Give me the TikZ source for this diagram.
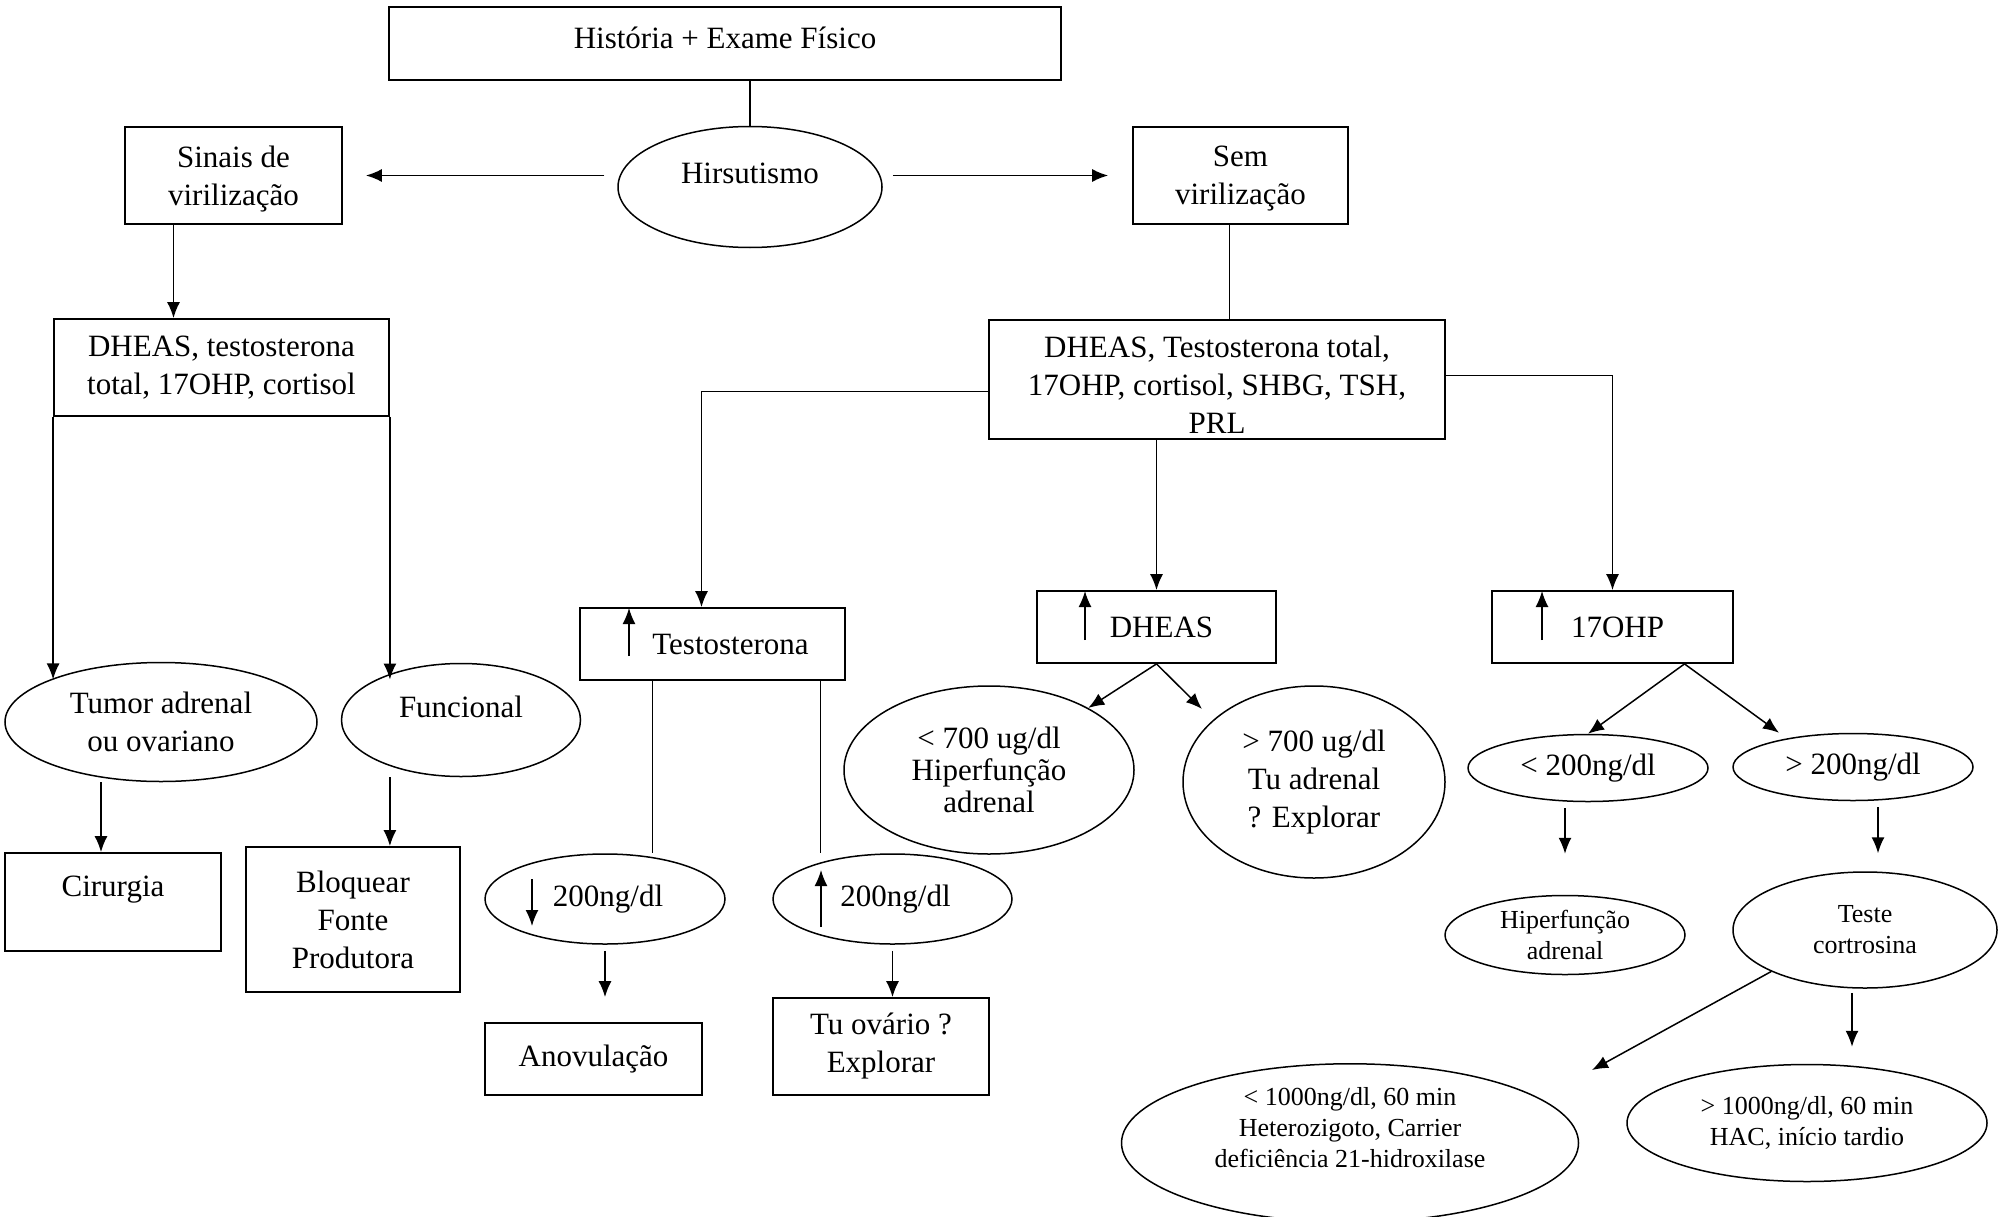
\documentclass[tikz,border=0pt]{standalone}
\usepackage{fontspec}
\setmainfont{Liberation Serif}
\usetikzlibrary{shapes.geometric,arrows.meta}

\tikzset{
  box/.style={draw, line width=1.8pt, rectangle, inner sep=3pt, align=center},
  oval/.style={draw, line width=1.5pt, ellipse, inner sep=0pt, align=center},
  arr/.style={line width=1.5pt, -{Latex[length=16pt,width=13pt]}},
  ln/.style={line width=1.5pt},
  small/.style={font=\fontsize{26}{31}\selectfont},
}

\begin{document}
\begin{tikzpicture}[x=1pt, y=-1pt, font=\fontsize{31}{38}\selectfont]
    \useasboundingbox (0,0) rectangle (2009,1217);

    % topo
    \node[box, minimum width=672pt, minimum height=73pt, text depth=12pt] (hist) at (725,43.5) {História + Exame Físico};
    \node[oval, minimum width=264pt, minimum height=121pt, text depth=28pt] (hirs) at (750,187) {Hirsutismo};
    \node[box, minimum width=217pt, minimum height=97pt, text depth=0pt] (sinais) at (233.5,175.5) {Sinais de\\virilização};
    \node[box, minimum width=215pt, minimum height=97pt, text depth=0pt] (sem) at (1240.5,175.5) {Sem\\virilização};

    % exames
    \node[box, minimum width=335pt, minimum height=97pt] (exL) at (221.5,367.5) {DHEAS, testosterona\\total, 17OHP, cortisol};
    \node[box, minimum width=456pt, minimum height=119pt, text height=108pt] (exR) at (1217,379.5) {DHEAS, Testosterona total,\\17OHP, cortisol, SHBG, TSH,\\PRL};

    % ramo esquerdo
    \node[oval, minimum width=312pt, minimum height=119pt] (tumor) at (161,722) {Tumor adrenal\\ou ovariano};
    \node[oval, minimum width=239pt, minimum height=113pt, text depth=26pt] (func) at (461,720) {Funcional};
    \node[box, minimum width=216pt, minimum height=98pt, text depth=31pt] (cir) at (113,902) {Cirurgia};
    \node[box, minimum width=214pt, minimum height=145pt] (bloq) at (353,919.5) {Bloquear\\Fonte\\Produtora};

    % testosterona
    \node[box, minimum width=265pt, minimum height=72pt] (testo) at (712.5,644) {\hspace*{36pt}Testosterona};
    \node[oval, minimum width=240pt, minimum height=90pt] (lowT) at (605,899) {\hspace*{6pt}200ng/dl};
    \node[oval, minimum width=239pt, minimum height=90pt] (highT) at (892.5,899) {\hspace*{6pt}200ng/dl};
    \node[box, minimum width=217pt, minimum height=72pt] (anov) at (593.5,1059) {Anovulação};
    \node[box, minimum width=216pt, minimum height=97pt] (tuov) at (881,1046.5) {Tu ovário ?\\Explorar};

    % DHEAS
    \node[box, minimum width=239pt, minimum height=72pt] (dheas) at (1156.5,627) {\hspace*{10pt}DHEAS};
    \node[oval, minimum width=290pt, minimum height=168pt, font=\fontsize{31}{32}\selectfont] (lt700) at (989,770) {< 700 ug/dl\\Hiperfunção\\adrenal};
    \node[oval, minimum width=262pt, minimum height=192pt] (gt700) at (1314,782) {> 700 ug/dl\\Tu adrenal\\? Explorar};

    % 17OHP
    \node[box, minimum width=241pt, minimum height=72pt] (ohp) at (1612.5,627) {\hspace*{10pt}17OHP};
    \node[oval, minimum width=240pt, minimum height=67pt] (lt200) at (1588,768) {< 200ng/dl};
    \node[oval, minimum width=240pt, minimum height=67pt] (gt200) at (1853,767) {> 200ng/dl};
    \node[oval, small, minimum width=240pt, minimum height=79pt] (hipf) at (1565,935) {Hiperfunção\\adrenal};
    \node[oval, small, minimum width=264pt, minimum height=116pt] (teste) at (1865,930) {Teste\\cortrosina};
    \node[oval, small, minimum width=457pt, minimum height=146pt, text depth=32pt] (lt1000) at (1350,1143) {< 1000ng/dl, 60 min\\Heterozigoto, Carrier\\deficiência 21-hidroxilase};
    \node[oval, small, minimum width=360pt, minimum height=117pt] (gt1000) at (1807,1123) {> 1000ng/dl, 60 min\\HAC, início tardio};

    \coordinate (gtip) at (1202,709);
    \coordinate (ctip) at (1592,1070);

    % ligacoes
    \draw[ln] (hirs.north) -- (hirs.north |- hist.south);
    \draw[arr, shorten <=13pt, shorten >=23pt] (hirs.west |- sinais.east) -- (sinais.east);
    \draw[arr, shorten <=10pt, shorten >=24pt] (hirs.east |- sem.west) -- (sem.west);
    \draw[arr] ([xshift=-60pt]sinais.south) -- ([xshift=-60pt]sinais.south |- exL.north);
    \draw[ln] ([xshift=-11pt]sem.south) -- ([xshift=-11pt]sem.south |- exR.north);

    \draw[arr] (exL.south west) -- (exL.south west |- tumor.north west);
    \draw[arr] (exL.south east) -- (exL.south east |- func.north west);
    \draw[arr] ([xshift=-12pt]cir.north |- tumor.south) -- ([xshift=-12pt]cir.north);
    \draw[arr] (func.south -| exL.south east) -- (bloq.north -| exL.south east);

    \draw[arr] ([yshift=-12pt]exR.west) -| ([xshift=-11pt]testo.north);
    \draw[arr] (exR.south -| dheas.north) -- (dheas.north);
    \draw[arr] ([yshift=4pt]exR.east) -| (ohp.north);

    \draw[ln] ([xshift=-60pt]testo.south) -- ([xshift=-60pt]testo.south |- lowT.north);
    \draw[ln] ([xshift=108pt]testo.south) -- ([xshift=108pt]testo.south |- highT.north);
    \draw[arr, shorten <=6pt, shorten >=25pt] (lowT.south) -- (lowT.south |- anov.north);
    \draw[arr, shorten <=6pt] (highT.south) -- (highT.south |- tuov.north);

    \draw[arr] (dheas.south) -- (lt700.32);
    \draw[arr] (dheas.south) -- (gtip);

    \draw[arr] ([xshift=72pt]ohp.south) -- (lt200.north);
    \draw[arr] ([xshift=72pt]ohp.south) -- ([xshift=-74pt]gt200.north);
    \draw[arr, shorten <=6pt, shorten >=41pt] (hipf.north |- lt200.south) -- (hipf.north);
    \draw[arr, shorten <=6pt, shorten >=18pt] ([xshift=13pt]teste.north |- gt200.south) -- ([xshift=13pt]teste.north);
    \draw[arr] (teste.south west) -- (ctip);
    \draw[arr, shorten <=4pt, shorten >=17pt] ([xshift=-13pt]teste.south) -- ([xshift=-13pt]teste.south |- gt1000.north);

    % setas de aumento / queda
    \draw[arr] (629,656) -- (629,608);
    \draw[arr] (1085,640) -- (1085,591);
    \draw[arr] (1542,640) -- (1542,591);
    \draw[arr] (532,879) -- (532,926);
    \draw[arr] (821,927) -- (821,870);
\end{tikzpicture}
\end{document}
